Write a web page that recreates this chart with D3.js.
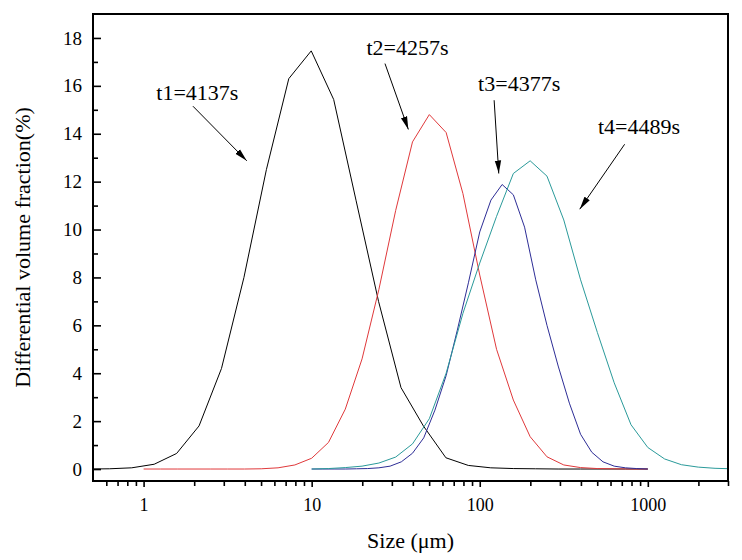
<!DOCTYPE html>
<html>
<head>
<meta charset="utf-8">
<script src="https://cdn.jsdelivr.net/npm/d3@7"></script>
<style>
body { margin: 0; background: #fff; }
text { font-family: "Liberation Serif", "Times New Roman", serif; fill: #000; }
</style>
</head>
<body>
<script>
const width = 742
const height = 560
const margin = { top: 14, right: 14, bottom: 79, left: 93 }

// size grids (µm)
const sizesT1 = [0.46, 0.625, 0.85, 1.156, 1.572, 2.138, 2.907, 3.954, 5.377, 7.31, 9.94, 13.52, 18.39, 25.0,
	34.0, 46.2, 62.9, 85.5, 116.3, 158.2, 215.1, 292.6, 397.9, 541.2, 736, 1000]
const sizesT2 = [1, 1.259, 1.585, 1.995, 2.512, 3.162, 3.981, 5.012, 6.31, 7.943, 10, 12.59, 15.85, 19.95, 25.12,
	31.62, 39.81, 50.12, 63.1, 79.43, 100, 125.9, 158.5, 199.5, 251.2, 316.2, 398.1, 501.2, 631, 794.3, 1000]
const sizesT3 = [10, 11.66, 13.59, 15.85, 18.48, 21.54, 25.12, 29.29, 34.15, 39.81, 46.42, 54.12, 63.1, 73.56,
	85.77, 100, 116.6, 135.9, 158.5, 184.8, 215.4, 251.2, 292.9, 341.5, 398.1, 464.2, 541.2, 631, 735.6, 857.7, 1000]
const sizesT4 = [10, 12.59, 15.85, 19.95, 25.12, 31.62, 39.81, 50.12, 63.1, 79.43, 100, 125.9, 158.5, 199.5, 251.2,
	316.2, 398.1, 501.2, 631, 794.3, 1000, 1259, 1585, 1995, 2512, 3162]

// differential volume fraction (%)
const valuesT1 = [0, 0.01, 0.05, 0.2, 0.65, 1.8, 4.2, 8.0, 12.5, 16.3, 17.46, 15.43, 11.2, 7.0,
	3.4, 1.8, 0.47, 0.15, 0.05, 0.02, 0.01, 0, 0, 0, 0, 0]
const valuesT2 = [0, 0, 0, 0, 0, 0, 0, 0.01, 0.05, 0.17, 0.45, 1.11, 2.5, 4.6, 7.5,
	10.8, 13.66, 14.8, 14.05, 11.5, 8.1, 5.0, 2.88, 1.35, 0.51, 0.17, 0.06, 0.02, 0.01, 0, 0]
const valuesT3 = [0, 0, 0, 0, 0.01, 0.02, 0.05, 0.12, 0.3, 0.66, 1.3, 2.46, 3.9, 5.8,
	7.8, 9.9, 11.23, 11.88, 11.45, 10.1, 7.9, 6.0, 4.3, 2.75, 1.45, 0.7, 0.3, 0.12, 0.05, 0.02, 0]
const valuesT4 = [0, 0.02, 0.06, 0.12, 0.25, 0.5, 1.05, 2.1, 4.0, 6.5, 8.6, 10.55, 12.34, 12.87, 12.23,
	10.4, 7.9, 5.7, 3.6, 1.85, 0.9, 0.42, 0.18, 0.08, 0.03, 0.01]

const seriesNames = ['t1', 't2', 't3', 't4']
const seriesColors = ['#000000', '#e0393b', '#2d2d96', '#2a9a9a']

const xMajorTicks = [1, 10, 100, 1000]
const yMajorTicks = [0, 2, 4, 6, 8, 10, 12, 14, 16, 18]
const yMinorTicks = [1, 3, 5, 7, 9, 11, 13, 15, 17]

// annotation labels, arrows given in data units [size, value]
const noteLabels = ['t1=4137s', 't2=4257s', 't3=4377s', 't4=4489s']
const noteTextAt = [[1.19, 15.4], [21.2, 17.28], [97.8, 15.79], [505, 13.97]]
const noteArrowFrom = [[1.966, 15.15], [27.3, 16.93], [121.8, 15.4], [728, 13.56]]
const noteArrowTo = [[4.11, 12.87], [37.6, 14.18], [129.8, 12.34], [393.6, 10.85]]

const series = [
	{ name: 't1', sizes: sizesT1, values: valuesT1 },
	{ name: 't2', sizes: sizesT2, values: valuesT2 },
	{ name: 't3', sizes: sizesT3, values: valuesT3 },
	{ name: 't4', sizes: sizesT4, values: valuesT4 }
]

const xScale = d3.scaleLog()
	.domain([0.5, 3000])
	.range([margin.left, width - margin.right])

const yScale = d3.scaleLinear()
	.domain([-0.5, 19])
	.range([height - margin.bottom, margin.top])

const svg = d3.select('body')
	.append('svg')
	.attr('width', width)
	.attr('height', height)

svg.append('defs')
	.append('clipPath')
	.attr('id', 'plot-clip')
	.append('rect')
	.attr('x', margin.left)
	.attr('y', margin.top)
	.attr('width', width - margin.left - margin.right)
	.attr('height', height - margin.top - margin.bottom)

svg.select('defs')
	.append('marker')
	.attr('id', 'arrow')
	.attr('markerUnits', 'userSpaceOnUse')
	.attr('markerWidth', 14)
	.attr('markerHeight', 8)
	.attr('refX', 13)
	.attr('refY', 4)
	.attr('orient', 'auto')
	.append('path')
	.attr('d', 'M0,0.8 L13,4 L0,7.2 Z')
	.attr('fill', '#000')

const line = d3.line()
	.x(d => xScale(d[0]))
	.y(d => yScale(d[1]))

svg.append('g')
	.attr('clip-path', 'url(#plot-clip)')
	.selectAll('path')
	.data(series)
	.enter()
	.append('path')
	.attr('d', s => line(s.sizes.map((v, i) => [v, s.values[i]])))
	.attr('fill', 'none')
	.attr('stroke', (s, i) => seriesColors[i])
	.attr('stroke-width', 1)

// x axis
const xMinorTicks = xScale.ticks().filter(t => !xMajorTicks.includes(t) && t > 0.5)

svg.append('g')
	.attr('transform', `translate(0,${height - margin.bottom})`)
	.call(d3.axisBottom(xScale).tickValues(xMinorTicks).tickSize(5).tickFormat(''))
	.call(g => g.select('.domain').remove())
	.selectAll('line').attr('stroke-width', 1.6)

svg.append('g')
	.attr('transform', `translate(0,${height - margin.bottom})`)
	.call(d3.axisBottom(xScale).tickValues(xMajorTicks).tickSize(6).tickPadding(11)
		.tickFormat(d3.format('d')))
	.call(g => g.select('.domain').remove())
	.call(g => g.selectAll('line').attr('stroke-width', 1.6))
	.call(g => g.selectAll('text').attr('font-size', 18).attr('font-family', null))

// y axis
svg.append('g')
	.attr('transform', `translate(${margin.left},0)`)
	.call(d3.axisLeft(yScale).tickValues(yMinorTicks).tickSize(-5).tickFormat(''))
	.call(g => g.select('.domain').remove())
	.selectAll('line').attr('stroke-width', 1.6)

svg.append('g')
	.attr('transform', `translate(${margin.left},0)`)
	.call(d3.axisLeft(yScale).tickValues(yMajorTicks).tickSizeInner(-8).tickSizeOuter(0).tickPadding(11))
	.call(g => g.select('.domain').remove())
	.call(g => g.selectAll('line').attr('stroke-width', 1.6))
	.call(g => g.selectAll('text').attr('font-size', 19).attr('font-family', null))

// frame
svg.append('rect')
	.attr('x', margin.left)
	.attr('y', margin.top)
	.attr('width', width - margin.left - margin.right)
	.attr('height', height - margin.top - margin.bottom)
	.attr('fill', 'none')
	.attr('stroke', '#000')
	.attr('stroke-width', 2)

// axis titles
svg.append('text')
	.attr('x', (margin.left + width - margin.right) / 2)
	.attr('y', 548)
	.attr('text-anchor', 'middle')
	.attr('font-size', 22)
	.text('Size (μm)')

svg.append('text')
	.attr('transform', `translate(30,${(margin.top + height - margin.bottom) / 2}) rotate(-90)`)
	.attr('text-anchor', 'middle')
	.attr('font-size', 22)
	.text('Differential volume fraction(%)')

// annotations
const notes = svg.append('g')

notes.selectAll('text')
	.data(noteLabels)
	.enter()
	.append('text')
	.attr('x', (d, i) => xScale(noteTextAt[i][0]))
	.attr('y', (d, i) => yScale(noteTextAt[i][1]))
	.attr('font-size', 22)
	.text(d => d)

notes.selectAll('line')
	.data(noteLabels)
	.enter()
	.append('line')
	.attr('x1', (d, i) => xScale(noteArrowFrom[i][0]))
	.attr('y1', (d, i) => yScale(noteArrowFrom[i][1]))
	.attr('x2', (d, i) => xScale(noteArrowTo[i][0]))
	.attr('y2', (d, i) => yScale(noteArrowTo[i][1]))
	.attr('stroke', '#000')
	.attr('stroke-width', 1)
	.attr('marker-end', 'url(#arrow)')
</script>
</body>
</html>
